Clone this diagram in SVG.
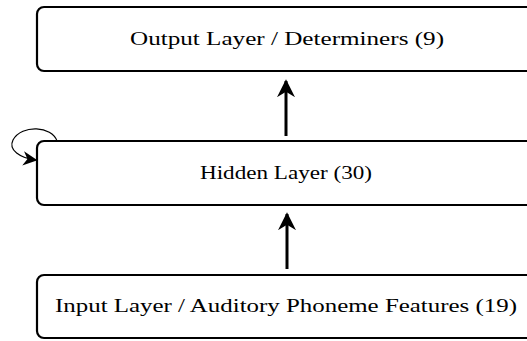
<svg xmlns="http://www.w3.org/2000/svg" width="527" height="341" viewBox="0 0 527 341">
  <style>
    .box { fill: #ffffff; stroke: #000000; stroke-width: 2.2; }
    .label { font-family: "Liberation Serif", "DejaVu Serif", serif; font-size: 18px; fill: #000000; text-anchor: middle; }
    .flow { stroke: #000000; stroke-width: 3; fill: none; }
    .loop { stroke: #000000; stroke-width: 1.2; fill: none; }
  </style>
  <defs>
    <marker id="stealth" viewBox="0 0 10 10" refX="9" refY="5" markerWidth="6" markerHeight="6" orient="auto" markerUnits="strokeWidth">
      <path d="M0,0 L10,5 L0,10 L3,5 Z" fill="#000000"/>
    </marker>
    <marker id="stealth-small" viewBox="0 0 10 10" refX="9" refY="5" markerWidth="12" markerHeight="12" orient="auto" markerUnits="strokeWidth">
      <path d="M0,0 L10,5 L0,10 L3,5 Z" fill="#000000"/>
    </marker>
  </defs>

  <g id="output-layer">
    <rect class="box" x="37" y="7" width="498" height="64" rx="7" ry="7"/>
    <text class="label" x="287" y="45" textLength="314" lengthAdjust="spacingAndGlyphs">Output Layer / Determiners (9)</text>
  </g>

  <g id="hidden-layer">
    <rect class="box" x="37" y="141" width="498" height="64" rx="7" ry="7"/>
    <text class="label" x="286" y="179" textLength="172" lengthAdjust="spacingAndGlyphs">Hidden Layer (30)</text>
  </g>

  <g id="input-layer">
    <rect class="box" x="37" y="275" width="498" height="63" rx="7" ry="7"/>
    <text class="label" x="286" y="312" textLength="462" lengthAdjust="spacingAndGlyphs">Input Layer / Auditory Phoneme Features (19)</text>
  </g>

  <g id="connectors">
    <line class="flow" x1="286" y1="136" x2="286" y2="81" marker-end="url(#stealth)"/>
    <line class="flow" x1="287" y1="269" x2="287" y2="214" marker-end="url(#stealth)"/>
    <path class="loop" d="M57,141 C52,126 22,124 13,140 C8,150 20,158 36,160" marker-end="url(#stealth-small)"/>
  </g>
</svg>
